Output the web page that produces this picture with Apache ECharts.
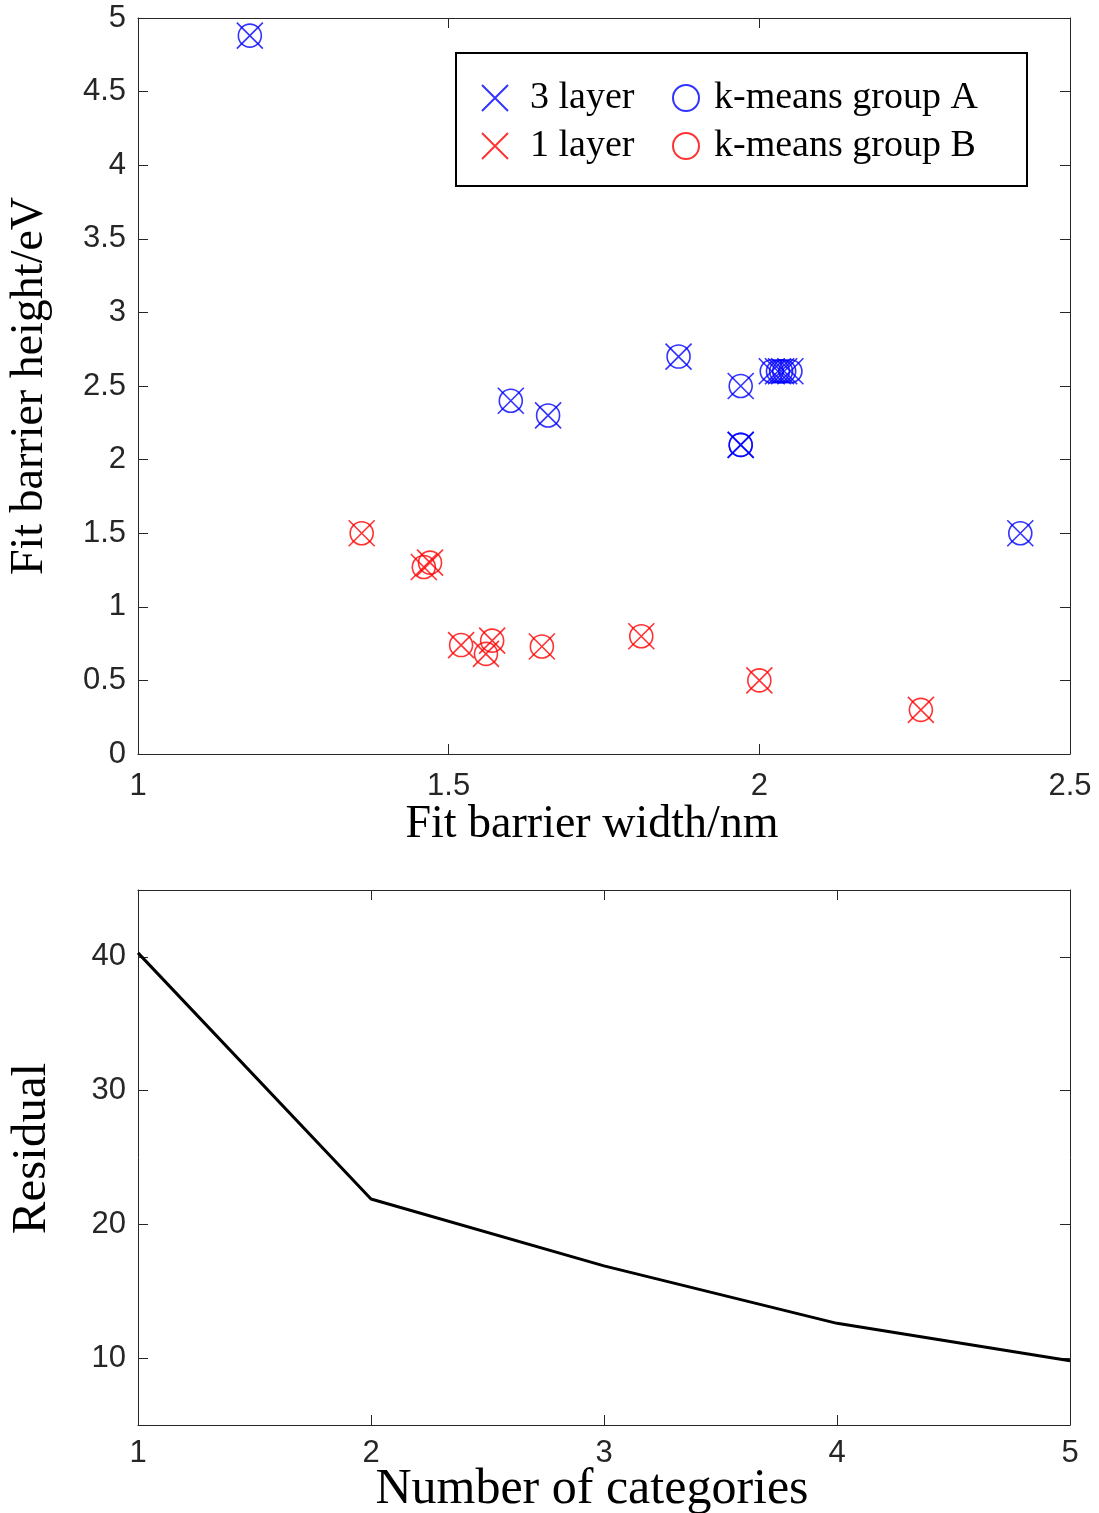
<!DOCTYPE html>
<html><head><meta charset="utf-8">
<script src="https://cdn.jsdelivr.net/npm/echarts@6/dist/echarts.min.js"></script>
<style>html,body{margin:0;padding:0;background:#fff}#c{width:1099px;height:1513px}</style>
</head><body><div id="c"></div>
<script>
// ---- data ----
var layer3X = [1.18, 1.60, 1.66, 1.87, 1.97, 1.97, 1.97, 2.02, 2.03, 2.035, 2.04, 2.05, 2.42];
var layer3Y = [4.88, 2.40, 2.30, 2.70, 2.50, 2.10, 2.10, 2.60, 2.60, 2.60, 2.60, 2.60, 1.50];
var layer1X = [1.36, 1.46, 1.47, 1.52, 1.56, 1.57, 1.65, 1.81, 2.00, 2.26];
var layer1Y = [1.50, 1.27, 1.30, 0.74, 0.68, 0.77, 0.73, 0.80, 0.50, 0.30];
var groupAX = layer3X, groupAY = layer3Y;
var groupBX = layer1X, groupBY = layer1Y;
var categories = [1, 2, 3, 4, 5];
var residual = [40.3, 21.9, 16.9, 12.6, 9.8];
var resTicks = [10, 20, 30, 40];

function pts(xs, ys){ return xs.map(function(x,i){ return [x, ys[i]]; }); }

var AX = '#262626';
var tickFont = {fontFamily:'Liberation Sans', fontSize:31, color:AX};
var serif = 'Liberation Serif';
var CROSS = 'path://M0,0L10,10M10,0L0,10';

function mainAxis(o){
  return Object.assign({
    axisLine:{show:true, onZero:false, lineStyle:{color:AX, width:1}},
    axisTick:{show:true, inside:true, length:10, lineStyle:{color:AX}},
    splitLine:{show:false},
    nameMoveOverlap:false
  }, o);
}

var chart = echarts.init(document.getElementById('c'), null, {renderer:'canvas'});
var option = {
  animation:false,
  backgroundColor:'#fff',
  grid:[
    {left:138, top:18, width:932, height:736, outerBoundsMode:'none', containLabel:false},
    {left:138, top:890, width:932, height:535, outerBoundsMode:'none', containLabel:false}
  ],
  xAxis:[
    mainAxis({type:'value', gridIndex:0, min:1, max:2.5, interval:0.5, position:'bottom',
      axisLabel:Object.assign({margin:17}, tickFont),
      name:'Fit barrier width/nm', nameLocation:'middle', nameGap:48,
      nameTextStyle:{fontFamily:serif, fontSize:46, color:'#000', padding:[0,24,0,0]}}),
    mainAxis({type:'value', gridIndex:0, min:1, max:2.5, interval:0.5, position:'top', axisLabel:{show:false}}),
    mainAxis({type:'value', gridIndex:1, min:1, max:5, interval:1, position:'bottom',
      axisLabel:Object.assign({margin:13}, tickFont),
      name:'Number of categories', nameLocation:'middle', nameGap:40,
      nameTextStyle:{fontFamily:serif, fontSize:50, color:'#000', padding:[0,24,0,0]}}),
    mainAxis({type:'value', gridIndex:1, min:1, max:5, interval:1, position:'top', axisLabel:{show:false}})
  ],
  yAxis:[
    mainAxis({type:'value', gridIndex:0, min:0, max:5, interval:0.5, position:'left',
      axisLabel:Object.assign({margin:12}, tickFont),
      name:'Fit barrier height/eV', nameLocation:'middle', nameGap:85,
      nameTextStyle:{fontFamily:serif, fontSize:46, color:'#000'}}),
    mainAxis({type:'value', gridIndex:0, min:0, max:5, interval:0.5, position:'right', axisLabel:{show:false}}),
    mainAxis({type:'value', gridIndex:1, min:5, max:45, position:'left',
      axisTick:{show:true, inside:true, length:10, lineStyle:{color:AX}, customValues:resTicks},
      axisLabel:Object.assign({margin:12, customValues:resTicks}, tickFont),
      name:'Residual', nameLocation:'middle', nameGap:81,
      nameTextStyle:{fontFamily:serif, fontSize:49, color:'#000', padding:[0,0,0,18]}}),
    mainAxis({type:'value', gridIndex:1, min:5, max:45, position:'right',
      axisTick:{show:true, inside:true, length:10, lineStyle:{color:AX}, customValues:resTicks},
      axisLabel:{show:false}})
  ],
  legend:[
    {orient:'vertical', left:476, top:74, itemGap:10, itemWidth:26, itemHeight:26,
     textStyle:{fontFamily:serif, fontSize:38, color:'#000', padding:[0,0,0,17]},
     data:['3 layer','1 layer'], selectedMode:false},
    {orient:'vertical', left:667, top:74, itemGap:10, itemWidth:26, itemHeight:26,
     textStyle:{fontFamily:serif, fontSize:38, color:'#000', padding:[0,0,0,10]},
     data:['k-means group A','k-means group B'], selectedMode:false}
  ],
  graphic:[
    {type:'rect', shape:{x:456, y:53, width:571, height:133}, style:{fill:'#fff', stroke:'#000', lineWidth:2}, z:-1}
  ],
  series:[
    {name:'3 layer', type:'scatter', xAxisIndex:0, yAxisIndex:0, data:pts(layer3X, layer3Y),
     symbol:CROSS, symbolSize:26, itemStyle:{color:'rgba(0,0,0,0)', borderColor:'#0000ff', borderWidth:1.6}},
    {name:'1 layer', type:'scatter', xAxisIndex:0, yAxisIndex:0, data:pts(layer1X, layer1Y),
     symbol:CROSS, symbolSize:26, itemStyle:{color:'rgba(0,0,0,0)', borderColor:'#ff0000', borderWidth:1.6}},
    {name:'k-means group A', type:'scatter', xAxisIndex:0, yAxisIndex:0, data:pts(groupAX, groupAY),
     symbol:'circle', symbolSize:23, itemStyle:{color:'rgba(0,0,0,0)', borderColor:'#0000ff', borderWidth:1.6}},
    {name:'k-means group B', type:'scatter', xAxisIndex:0, yAxisIndex:0, data:pts(groupBX, groupBY),
     symbol:'circle', symbolSize:23, itemStyle:{color:'rgba(0,0,0,0)', borderColor:'#ff0000', borderWidth:1.6}},
    {name:'residual', type:'line', xAxisIndex:2, yAxisIndex:2, data:pts(categories, residual),
     symbol:'none', lineStyle:{color:'#000', width:3}}
  ]
};
chart.setOption(option);
</script></body></html>
